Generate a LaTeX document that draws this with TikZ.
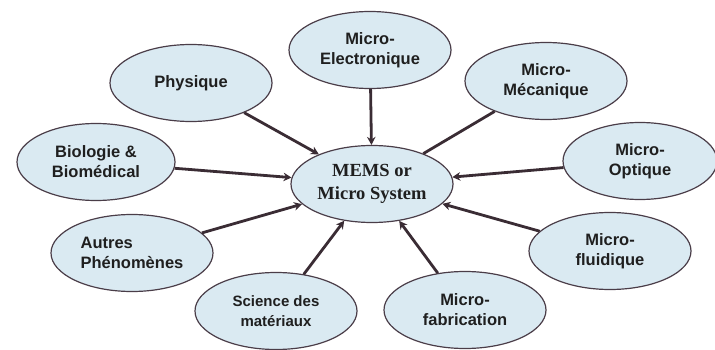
\documentclass[tikz,border=0pt]{standalone}
\usepackage{fontspec}
\setmainfont{Liberation Sans}
\newfontfamily\memsfont{Liberation Serif}
\usetikzlibrary{shapes.geometric,arrows.meta}
\definecolor{ellfill}{HTML}{DAEAF2}
\definecolor{ellline}{HTML}{4A3D48}
\definecolor{arrcol}{HTML}{3A2C34}
\tikzset{
  topic/.style={ellipse, draw=ellline, line width=1.2pt, fill=ellfill,
    inner sep=0pt, minimum width=162pt, minimum height=77pt,
    font=\fontsize{16.5}{20}\selectfont\bfseries, align=center, text=black!88},
  link/.style={draw=arrcol, line width=2.8pt},
  arr/.style={link, -{Stealth[length=8pt,width=8.5pt]}}
}
\begin{document}
\begin{tikzpicture}[x=1pt,y=-1pt]
\useasboundingbox (0,0) rectangle (715,350);
\fill[white] (0,0) rectangle (715,350);
\clip (0,0) rectangle (715,350);
\node[topic, font=\memsfont\fontsize{18.5}{23}\selectfont\bfseries] (mems) at (372,184) {MEMS or\\Micro System};
\node[topic] (elec) at (370,50) {Micro-\\Electronique};
\node[topic] (phys) at (191,83) {Physique};
\node[topic] (meca) at (546,81) {Micro-\\Mécanique};
\node[topic, minimum width=154pt] (opt) at (640,161) {Micro-\\Optique};
\node[topic, minimum width=158pt] (bio) at (96,162) {Biologie \&\\Biomédical};
\node[topic, align=left] (autres) at (132,253) {Autres\\Phénomènes};
\node[topic, font=\fontsize{15}{20}\selectfont\bfseries] (sci) at (276,311) {Science des\\matériaux};
\node[topic] (fab) at (465,310) {Micro-\\fabrication};
\node[topic] (flu) at (610,251) {Micro-\\fluidique};
\draw[arr] (phys) -- (mems);
\draw[arr] (elec) -- (mems);
\draw[link] (meca) -- (mems);
\draw[arr] (opt) -- (mems);
\draw[arr] (bio) -- (mems);
\draw[arr] (autres) -- (mems);
\draw[arr] (sci) -- (mems);
\draw[arr] (fab) -- (mems);
\draw[arr] (flu) -- (mems);
\end{tikzpicture}
\end{document}
